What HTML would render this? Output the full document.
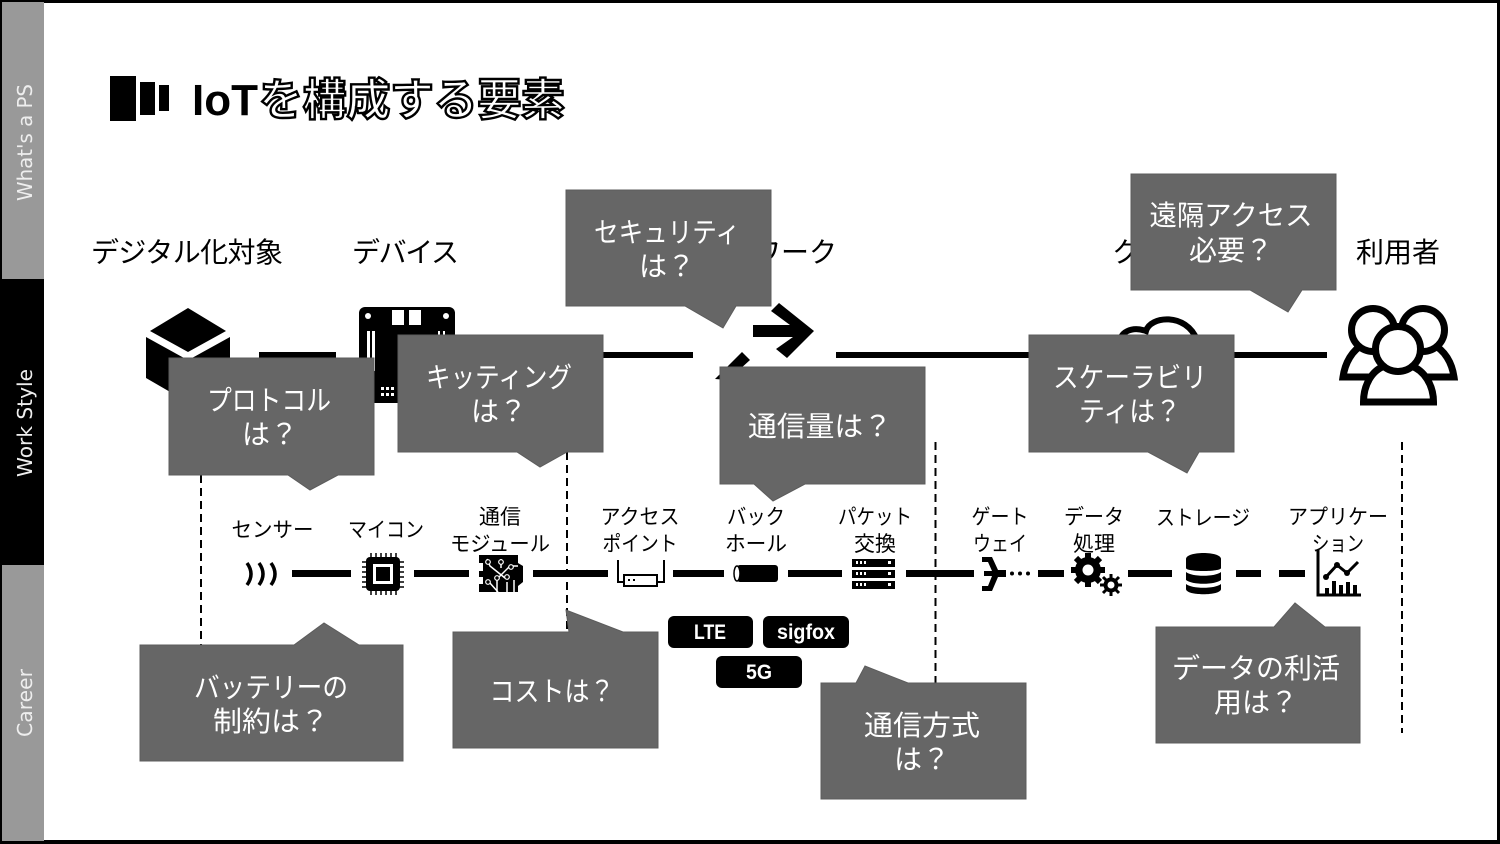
<!DOCTYPE html>
<html lang="ja"><head><meta charset="utf-8"><style>
html,body{margin:0;padding:0;background:#fff;width:1500px;height:844px;overflow:hidden}
svg{display:block}
text{font-family:"Liberation Sans","Noto Sans CJK JP",sans-serif}
.h{font-size:28px;fill:#000}
.s{font-size:21px;fill:#000;text-anchor:middle}
.c{font-size:28px;fill:#fff;text-anchor:middle}
.p{font-size:21px;font-weight:bold;fill:#fff;text-anchor:middle}
.b{fill:#666;stroke:#5c5c5c;stroke-width:1}
.side{font-size:20px;fill:#eee;text-anchor:middle;font-family:"DejaVu Sans",sans-serif}
</style></head><body>
<svg width="1500" height="844" viewBox="0 0 1500 844" xmlns="http://www.w3.org/2000/svg">
<rect width="1500" height="844" fill="#000"/>
<rect x="2" y="3" width="1495" height="837" fill="#fff"/>
<rect x="2" y="2" width="42" height="277" fill="#999"/>
<rect x="0" y="279" width="44" height="286" fill="#000"/>
<rect x="2" y="565" width="42" height="276" fill="#999"/>
<text class="side" transform="translate(32,142.500) rotate(-90)" textLength="117" lengthAdjust="spacingAndGlyphs">What's a PS</text>
<text class="side" transform="translate(32,423) rotate(-90)" textLength="108" lengthAdjust="spacingAndGlyphs">Work Style</text>
<text class="side" transform="translate(32,703) rotate(-90)" textLength="68" lengthAdjust="spacingAndGlyphs">Career</text>

<rect x="110" y="76" width="26" height="45"/><rect x="140" y="82" width="15" height="33"/><rect x="159" y="85" width="10" height="26"/>
<text x="192" y="115" style="font-size:44px;font-weight:bold">IoT</text>
<text x="259" y="115" style="font-size:44px;font-weight:bold;fill:#fff;stroke:#000;stroke-width:2.400" textLength="306">を構成する要素</text>

<text class="h" x="91" y="262" textLength="192">デジタル化対象</text>
<text class="h" x="352" y="262" textLength="107">デバイス</text>
<text class="h" x="669" y="262" textLength="168">ネットワーク</text>
<text class="h" x="1112" y="262">クラウド</text>
<text class="h" x="1356" y="262" textLength="84">利用者</text>

<!-- main line -->
<rect x="259" y="352" width="77" height="6"/>
<rect x="455" y="352" width="238" height="6"/>
<rect x="836" y="352" width="491" height="6"/>

<!-- cube -->
<path d="M188 308L226 331L188 352L150 331Z"/>
<path d="M146 337L184 358V400L146 378Z"/>
<path d="M230 337L192 358V400L230 378Z"/>
<!-- board -->
<rect x="359" y="307" width="96" height="96" rx="6"/>
<g fill="#fff"><circle cx="368" cy="316" r="3"/><circle cx="446" cy="316" r="3"/><rect x="392" y="310" width="12" height="15"/><rect x="409" y="310" width="12" height="15"/><rect x="367" y="331" width="3" height="40"/><rect x="372" y="331" width="3" height="40"/><rect x="438" y="331" width="2" height="12"/><rect x="443" y="331" width="2" height="12"/>
<rect x="381" y="387" width="3" height="3"/><rect x="386" y="387" width="3" height="3"/><rect x="391" y="387" width="3" height="3"/><rect x="381" y="393" width="3" height="3"/><rect x="386" y="393" width="3" height="3"/><rect x="391" y="393" width="3" height="3"/></g>
<!-- cloud -->
<path d="M1120 345C1118 332 1132 326 1146 331C1150 316 1186 312 1197 340" fill="#fff" stroke="#000" stroke-width="6"/>
<!-- people -->
<g fill="#fff" stroke="#000" stroke-width="7">
<path d="M1343 377C1345 363 1352 350 1364 344H1432C1445 350 1452 363 1454 377Z"/>
<circle cx="1373" cy="330" r="21.500"/><circle cx="1423" cy="330" r="21.500"/>
<path d="M1363.500 402C1363.500 385 1372 370 1385 366H1411C1424 370 1433.500 385 1433.500 402Z"/>
<circle cx="1398" cy="349" r="22.500"/>
</g>
<!-- arrows -->
<path d="M753 325H790L771 311L779 303L814 331L787 358L776 349L793 337H753Z"/>
<path d="M742 352L750 360L728 380L715 379Z"/>

<!-- dashed -->
<g stroke="#000" stroke-width="2" stroke-dasharray="8 5" fill="none">
<path d="M201 475V645"/><path d="M567 452V632"/><path d="M935.500 442V683"/><path d="M1402 442V733"/>
</g>

<!-- small line -->
<g>
<rect x="292" y="570" width="59" height="7"/><rect x="414" y="570" width="55" height="7"/><rect x="533" y="570" width="75" height="7"/><rect x="673" y="570" width="51" height="7"/><rect x="788" y="570" width="54" height="7"/><rect x="906" y="570" width="68" height="7"/><rect x="1038" y="570" width="26" height="7"/><rect x="1128" y="570" width="44" height="7"/><rect x="1236" y="570" width="25" height="7"/><rect x="1279" y="570" width="26" height="7"/>
</g>
<!-- sensor -->
<g fill="none" stroke="#000" stroke-width="3.500"><path d="M247 563Q255 574 247 585"/><path d="M259 563Q267 574 259 585"/><path d="M271 563Q279 574 271 585"/></g>
<!-- chip -->
<g stroke="#000" stroke-width="1.500"><path d="M371 553V595M376 553V595M381 553V595M386 553V595M391 553V595M396 553V595M362 562H404M362 567H404M362 572H404M362 577H404M362 582H404M362 587H404"/></g>
<rect x="366" y="557" width="34" height="34" rx="4"/>
<rect x="373" y="564" width="20" height="20" fill="#fff"/><rect x="376" y="567" width="14" height="14"/>
<!-- module -->
<path d="M479 555H518V563L523 566V582L518 586V592H479V584H483V577H479V571H483V563H479Z"/>
<g fill="none" stroke="#fff" stroke-width="1.500"><path d="M487 559L490 566L505 578"/><path d="M501 559V568"/><path d="M518 566H510L497 579V592"/><path d="M489 582L498 592"/><path d="M507 582V592M514 580V592"/></g>
<g fill="#000" stroke="#fff" stroke-width="1.200"><circle cx="488" cy="562" r="2.300"/><circle cx="501" cy="562" r="2.300"/><circle cx="511" cy="567" r="2.300"/><circle cx="497" cy="578" r="2.300"/><circle cx="507" cy="577" r="2.300"/><circle cx="488" cy="582" r="2.300"/></g>
<!-- AP -->
<path d="M618 560V582H625M664 560V582H657" fill="none" stroke="#000" stroke-width="2"/>
<rect x="624" y="575" width="33" height="11" fill="#fff" stroke="#000" stroke-width="2"/>
<rect x="628" y="579" width="2" height="2"/><rect x="633" y="579" width="2" height="2"/>
<!-- backhaul -->
<rect x="737" y="565" width="41" height="17" rx="3"/>
<ellipse cx="737" cy="573.500" rx="3" ry="7.500" fill="#fff" stroke="#000" stroke-width="1.500"/>
<!-- server -->
<g><rect x="852" y="559" width="43" height="8"/><rect x="852" y="570" width="43" height="8"/><rect x="852" y="581" width="43" height="8"/></g>
<g fill="#fff"><rect x="856" y="561" width="2" height="3"/><rect x="860" y="561" width="2" height="3"/><rect x="864" y="561" width="2" height="3"/><rect x="888" y="561" width="3" height="3"/><rect x="856" y="572" width="2" height="3"/><rect x="860" y="572" width="2" height="3"/><rect x="864" y="572" width="2" height="3"/><rect x="888" y="572" width="3" height="3"/><rect x="856" y="583" width="2" height="3"/><rect x="860" y="583" width="2" height="3"/><rect x="864" y="583" width="2" height="3"/><rect x="888" y="583" width="3" height="3"/></g>
<!-- gateway -->
<path d="M982 557H992L998 570H1006V577H998L992 591H982V586H988L992 576H984V571H992L988 562H982Z"/>
<circle cx="1012" cy="573.500" r="2"/><circle cx="1020" cy="573.500" r="2"/><circle cx="1028" cy="573.500" r="2"/>
<!-- gears -->
<circle cx="1088" cy="570" r="13"/>
<path d="M1088 553V587M1071 570H1105M1076 558L1100 582M1100 558L1076 582" stroke="#000" stroke-width="6"/>
<circle cx="1088" cy="570" r="5.500" fill="#fff"/>
<circle cx="1111" cy="585" r="7.500"/>
<path d="M1111 574V596M1100 585H1122M1103 577L1119 593M1119 577L1103 593" stroke="#000" stroke-width="3"/>
<circle cx="1111" cy="585" r="3.500" fill="#fff"/>
<!-- db -->
<path d="M1186 559C1186 551 1221 551 1221 559V568C1221 572 1186 572 1186 568Z"/>
<path d="M1186 572C1192 577 1215 577 1221 572V580C1215 585 1192 585 1186 580Z"/>
<path d="M1186 584C1192 589 1215 589 1221 584V589C1221 596 1186 596 1186 589Z"/>
<!-- chart -->
<path d="M1318 550V595H1361" fill="none" stroke="#000" stroke-width="3"/>
<path d="M1326 577L1337 565L1347 573L1358 562" fill="none" stroke="#000" stroke-width="3"/>
<circle cx="1326" cy="577" r="3"/><circle cx="1337" cy="565" r="3"/><circle cx="1347" cy="573" r="3"/>
<rect x="1325" y="588" width="4" height="7"/><rect x="1332" y="581" width="4" height="14"/><rect x="1339" y="585" width="4" height="10"/><rect x="1346" y="582" width="4" height="13"/><rect x="1353" y="585" width="4" height="10"/>

<!-- small labels -->
<g lengthAdjust="spacingAndGlyphs">
<text class="s" x="272.500" y="537" textLength="82" lengthAdjust="spacingAndGlyphs">センサー</text>
<text class="s" x="386" y="537" textLength="76" lengthAdjust="spacingAndGlyphs">マイコン</text>
<text class="s" x="500" y="524">通信</text><text class="s" x="500" y="551" textLength="100" lengthAdjust="spacingAndGlyphs">モジュール</text>
<text class="s" x="640" y="524" textLength="79" lengthAdjust="spacingAndGlyphs">アクセス</text><text class="s" x="640" y="551" textLength="75" lengthAdjust="spacingAndGlyphs">ポイント</text>
<text class="s" x="756" y="524" textLength="58" lengthAdjust="spacingAndGlyphs">バック</text><text class="s" x="756" y="551" textLength="62" lengthAdjust="spacingAndGlyphs">ホール</text>
<text class="s" x="875" y="524" textLength="74" lengthAdjust="spacingAndGlyphs">パケット</text><text class="s" x="875" y="551">交換</text>
<text class="s" x="1000" y="524" textLength="57" lengthAdjust="spacingAndGlyphs">ゲート</text><text class="s" x="1000" y="551" textLength="54" lengthAdjust="spacingAndGlyphs">ウェイ</text>
<text class="s" x="1094" y="524" textLength="60" lengthAdjust="spacingAndGlyphs">データ</text><text class="s" x="1094" y="551">処理</text>
<text class="s" x="1203" y="525" textLength="94" lengthAdjust="spacingAndGlyphs">ストレージ</text>
<text class="s" x="1338" y="524" textLength="100" lengthAdjust="spacingAndGlyphs">アプリケー</text><text class="s" x="1338" y="551" textLength="52" lengthAdjust="spacingAndGlyphs">ション</text>
</g>

<!-- pills -->
<rect x="668" y="616" width="85" height="32" rx="6"/><rect x="763" y="616" width="86" height="32" rx="6"/><rect x="716" y="656" width="86" height="32" rx="6"/>
<text class="p" x="710" y="639" textLength="32" lengthAdjust="spacingAndGlyphs">LTE</text><text class="p" x="806" y="639" textLength="58" lengthAdjust="spacingAndGlyphs">sigfox</text><text class="p" x="759" y="679" textLength="26" lengthAdjust="spacingAndGlyphs">5G</text>

<!-- callouts -->
<path class="b" d="M169 358H374V475H338L310 490L288 475H169Z"/>
<text class="c" x="269" y="410" textLength="124" lengthAdjust="spacingAndGlyphs">プロトコル</text><text class="c" x="270" y="444">は？</text>
<path class="b" d="M398 335H603V452H567L540 467L517 452H398Z"/>
<text class="c" x="499" y="387" textLength="146" lengthAdjust="spacingAndGlyphs">キッティング</text><text class="c" x="499" y="421">は？</text>
<path class="b" d="M566 190H771V306H736L723 328L685 306H566Z"/>
<text class="c" x="667" y="242" textLength="146" lengthAdjust="spacingAndGlyphs">セキュリティ</text><text class="c" x="667" y="276">は？</text>
<path class="b" d="M720 367H925V484H805L773 501L754 484H720Z"/>
<text class="c" x="820" y="436" textLength="144" lengthAdjust="spacingAndGlyphs">通信量は？</text>
<path class="b" d="M1131 174H1336V290H1302L1288 312L1250 290H1131Z"/>
<text class="c" x="1231" y="225" textLength="163" lengthAdjust="spacingAndGlyphs">遠隔アクセス</text><text class="c" x="1231" y="260">必要？</text>
<path class="b" d="M1029 335H1234V452H1199L1187 473L1148 452H1029Z"/>
<text class="c" x="1130" y="387" textLength="154" lengthAdjust="spacingAndGlyphs">スケーラビリ</text><text class="c" x="1130" y="421" textLength="102" lengthAdjust="spacingAndGlyphs">ティは？</text>
<path class="b" d="M140 645H294L324 623L359 645H403V761H140Z"/>
<text class="c" x="271" y="697" textLength="154" lengthAdjust="spacingAndGlyphs">バッテリーの</text><text class="c" x="271" y="731" textLength="116" lengthAdjust="spacingAndGlyphs">制約は？</text>
<path class="b" d="M453 632H569L566 610L623 632H658V748H453Z"/>
<text class="c" x="552" y="701" textLength="125" lengthAdjust="spacingAndGlyphs">コストは？</text>
<path class="b" d="M821 683H856L865 666L908 683H1026V799H821Z"/>
<text class="c" x="922" y="735" textLength="116" lengthAdjust="spacingAndGlyphs">通信方式</text><text class="c" x="922" y="769">は？</text>
<path class="b" d="M1156 627H1274L1295 603L1325 627H1360V743H1156Z"/>
<text class="c" x="1256" y="678">データの利活</text><text class="c" x="1256" y="712">用は？</text>
</svg>
</body></html>
